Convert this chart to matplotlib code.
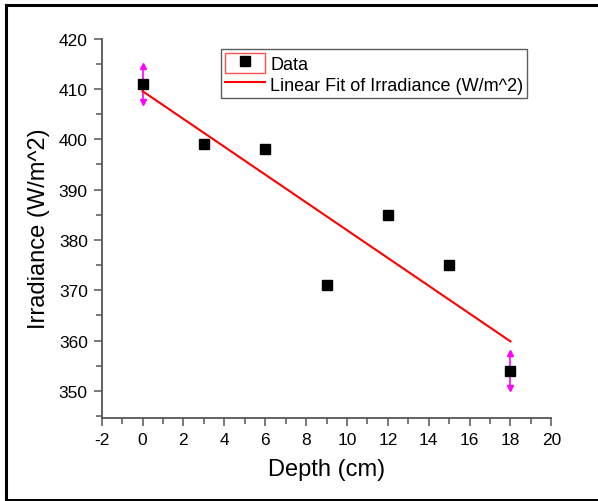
import numpy as np
import matplotlib
matplotlib.use("Agg")
import matplotlib.pyplot as plt
from matplotlib.lines import Line2D
from matplotlib.patches import Rectangle
from matplotlib.legend_handler import HandlerTuple
from matplotlib.ticker import MultipleLocator

# datos
depth = [0, 3, 6, 9, 12, 15, 18]
irradiance = [411, 399, 398, 371, 385, 375, 354]
err_depth = [0, 18]
err_value = [411, 354]
err_size = [3.5, 3.5]

plt.rcParams['font.family'] = ['Liberation Sans', 'DejaVu Sans']
plt.rcParams['axes.unicode_minus'] = False

fig = plt.figure(figsize=(5.98, 5.02), dpi=100)
ax = fig.add_axes([0.170, 0.166, 0.752, 0.755])

# barras de error (estilo Origin con flechas)
ax.errorbar(err_depth, err_value, yerr=err_size, fmt='none', ecolor='#ff00ff',
            elinewidth=1.2, capsize=0, zorder=2)
up = [v + e for v, e in zip(err_value, err_size)]
down = [v - e for v, e in zip(err_value, err_size)]
ax.plot(err_depth, up, linestyle='none', marker='^', color='#ff00ff', markersize=4, zorder=2)
ax.plot(err_depth, down, linestyle='none', marker='v', color='#ff00ff', markersize=4, zorder=2)

pts, = ax.plot(depth, irradiance, linestyle='none', marker='s', color='black',
               markersize=7, zorder=3)

# ajuste lineal
m, b = np.polyfit(depth, irradiance, 1)
xfit = np.array([min(depth), max(depth)])
fit, = ax.plot(xfit, m * xfit + b, color='red', linewidth=1.5, zorder=2)

ax.set_xlim(-2, 20)
ax.set_ylim(344.7, 420)
ax.xaxis.set_major_locator(MultipleLocator(2))
ax.xaxis.set_minor_locator(MultipleLocator(1))
ax.yaxis.set_major_locator(MultipleLocator(10))
ax.yaxis.set_minor_locator(MultipleLocator(5))

for s in ['top', 'right']:
    ax.spines[s].set_visible(False)
for s in ['left', 'bottom']:
    ax.spines[s].set_color('#555555')
    ax.spines[s].set_linewidth(1.3)
ax.tick_params(which='both', direction='out', color='#555555', width=1.1,
               labelsize=12.5, pad=4)
ax.tick_params(which='major', length=6)
ax.tick_params(which='minor', length=4)

ax.set_xlabel("Depth (cm)", fontsize=17, labelpad=8)
ax.set_ylabel("Irradiance (W/m^2)", fontsize=17, labelpad=6)

box = Rectangle((0, 0), 1, 1, facecolor='white', edgecolor='#ff5050', linewidth=1)
leg = ax.legend([(box, pts), fit], ["Data", "Linear Fit of Irradiance (W/m^2)"],
                handler_map={tuple: HandlerTuple(ndivide=1)},
                loc='upper left', bbox_to_anchor=(0.266, 0.972), borderaxespad=0,
                fontsize=13, frameon=True, fancybox=False, edgecolor='#333333',
                handlelength=2.2, handleheight=1.35, handletextpad=0.3,
                labelspacing=0.05, borderpad=0.2)
leg.get_frame().set_linewidth(1.0)

# marco exterior de la imagen
W, H = 598, 502
fig.add_artist(Line2D([6 / W, 1.0], [1 - 6 / H, 1 - 6 / H], color='black', linewidth=2.2))
fig.add_artist(Line2D([6 / W, 6 / W], [1 - 6 / H, 1.5 / H], color='black', linewidth=2.2))
fig.add_artist(Line2D([6 / W, 1.0], [1.5 / H, 1.5 / H], color='black', linewidth=2.2))

fig.savefig("out.png", dpi=100)
